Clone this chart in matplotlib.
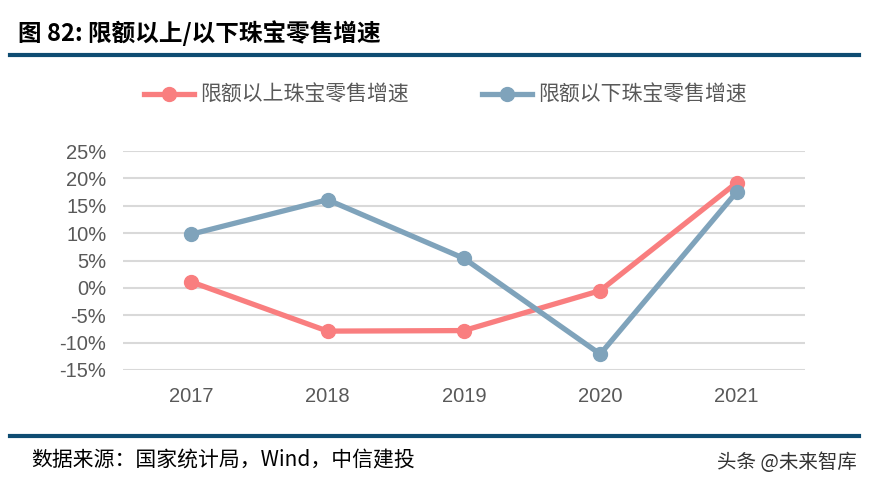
import matplotlib.pyplot as plt
import numpy as np

plt.rcParams['font.family'] = ['Noto Sans CJK SC', 'DejaVu Sans']

# dati
anni = ["2017", "2018", "2019", "2020", "2021"]
sopra = [1.1, -7.9, -7.8, -0.5, 19.2]
sotto = [9.8, 16.1, 5.4, -12.1, 17.5]
nome_sopra = "限额以上珠宝零售增速"
nome_sotto = "限额以下珠宝零售增速"
yticks = [-15, -10, -5, 0, 5, 10, 15, 20, 25]

rosso = "#F97E7F"
blu = "#7FA3BB"
grigio = "#595959"
blu_scuro = "#0E4C72"

fig = plt.figure(figsize=(8.7, 4.92), dpi=100)
ax = fig.add_axes([0.1414, 0.248, 0.7836, 0.445])

x = np.arange(len(anni)) + 0.5
ax.plot(x, sopra, color=rosso, lw=3.8, marker="o", ms=10, label=nome_sopra, zorder=3)
ax.plot(x, sotto, color=blu, lw=3.8, marker="o", ms=10, label=nome_sotto, zorder=3)

ax.set_xlim(0, len(anni))
ax.set_ylim(-15, 25)
ax.set_yticks(yticks)
ax.set_yticklabels([f"{v}%" for v in yticks], fontsize=14.5, color=grigio, family=['Liberation Sans'])
ax.set_xticks(x)
ax.set_xticklabels(anni, fontsize=14.5, color=grigio, family=['Liberation Sans'])
ax.tick_params(axis="y", length=0, pad=12)
ax.tick_params(axis="x", length=0, pad=12)
for v in yticks:
    ax.axhline(v, color="#D9D9D9", lw=1.5, zorder=1)
for s in ax.spines.values():
    s.set_visible(False)

leg = fig.legend(loc="center", bbox_to_anchor=(0.512, 0.807), ncol=2, frameon=False,
                 fontsize=15, handlelength=2.4, columnspacing=3.5, handletextpad=0.3)
for t in leg.get_texts():
    t.set_color(grigio)

fig.text(0.021, 0.932, "图 82: 限额以上/以下珠宝零售增速", fontsize=17, fontweight="bold",
         va="center", ha="left")
fig.add_artist(plt.Line2D([0.012, 0.987], [0.888, 0.888], color=blu_scuro, lw=3))
fig.add_artist(plt.Line2D([0.012, 0.987], [0.113, 0.113], color=blu_scuro, lw=3))
fig.text(0.036, 0.064, "数据来源：国家统计局，Wind，中信建投", fontsize=15, style="italic",
         va="center", ha="left")
fig.text(0.985, 0.06, "头条 @未来智库", fontsize=14, color="#333333", va="center", ha="right")

fig.savefig("out.png", dpi=100)
